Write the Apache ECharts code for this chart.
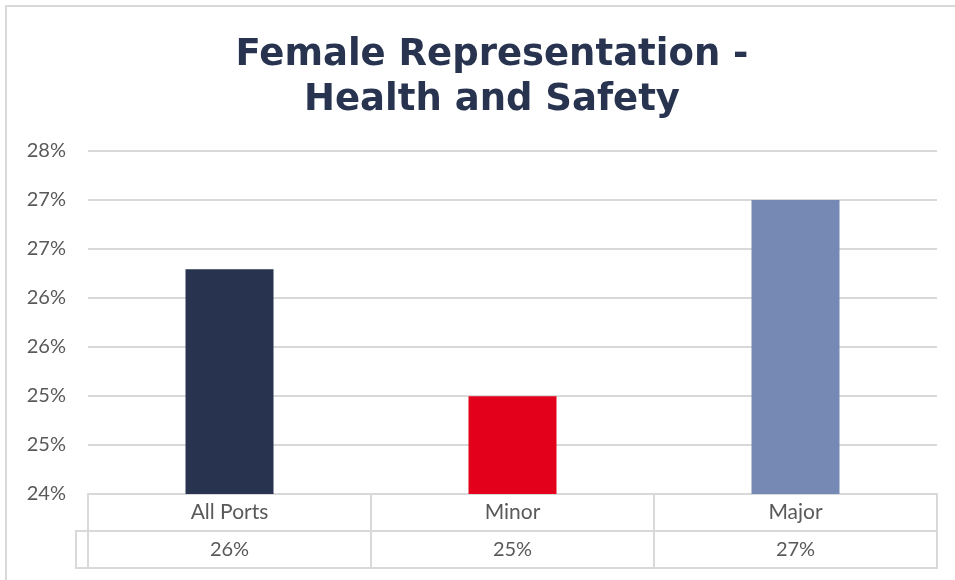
<!DOCTYPE html>
<html>
<head>
<meta charset="utf-8">
<script src="https://cdn.jsdelivr.net/npm/echarts@6/dist/echarts.min.js"></script>
<style>html,body{margin:0;padding:0;background:#fff}#c{width:955px;height:580px}</style>
</head>
<body>
<div id="c"></div>
<script>
var titleText = 'Female Representation -\nHealth and Safety';
var categories = ['All Ports', 'Minor', 'Major'];
var values = [26.62, 25.14, 27.43];
var tableLabels = ['26%', '25%', '27%'];
var barColors = ['#283350', '#e2001a', '#7589b4'];
var yMin = 24, yMax = 28, yInterval = 4 / 7;

var chart = echarts.init(document.getElementById('c'), null, {renderer: 'canvas'});
var gridColor = '#d9d9d9';
var textColor = '#595959';
var font = 'Lato, "Open Sans", sans-serif';

chart.setOption({
  animation: false,
  backgroundColor: '#fff',
  title: {
    text: titleText,
    left: 487,
    textAlign: 'center',
    top: 28,
    textStyle: {fontFamily: '"DejaVu Sans", Verdana, sans-serif', fontWeight: 'bold', fontSize: 37, color: '#283350', lineHeight: 45}
  },
  graphic: [
    {type: 'rect', shape: {x: 6, y: 6, width: 960, height: 590}, style: {fill: 'none', stroke: gridColor, lineWidth: 2}, silent: true},
    {type: 'rect', shape: {x: 76, y: 531, width: 12, height: 37}, style: {fill: 'none', stroke: gridColor, lineWidth: 2}, silent: true}
  ],
  grid: [
    {left: 88, right: 18, top: 151, bottom: 86},
    {left: 88, right: 18, top: 494, height: 74, show: true, borderColor: gridColor, borderWidth: 2}
  ],
  xAxis: [
    {
      type: 'category', gridIndex: 0, data: categories,
      axisLine: {show: false}, axisTick: {show: false},
      axisLabel: {
        margin: 0,
        formatter: function (v, i) { return '{c|' + v + '}\n{v|' + tableLabels[i] + '}'; },
        rich: {
          c: {fontFamily: font, fontSize: 21, color: textColor, lineHeight: 37, height: 37},
          v: {fontFamily: font, fontSize: 20, color: textColor, lineHeight: 37, height: 37}
        }
      }
    },
    {
      type: 'category', gridIndex: 1, data: categories,
      axisLine: {show: false}, axisTick: {show: false}, axisLabel: {show: false},
      splitLine: {show: true, interval: 0, lineStyle: {color: gridColor, width: 2}}
    }
  ],
  yAxis: [
    {
      type: 'value', gridIndex: 0, min: yMin, max: yMax, interval: yInterval,
      axisLine: {show: false}, axisTick: {show: false},
      axisLabel: {margin: 22, fontFamily: font, fontSize: 20, color: textColor,
        formatter: function (v) { return Math.round(v) + '%'; }},
      splitLine: {lineStyle: {color: gridColor, width: 2}}
    },
    {
      type: 'value', gridIndex: 1, min: 0, max: 2, interval: 1,
      axisLine: {show: false}, axisTick: {show: false}, axisLabel: {show: false},
      splitLine: {show: true, lineStyle: {color: gridColor, width: 2}}
    }
  ],
  series: [{
    type: 'bar', xAxisIndex: 0, yAxisIndex: 0, barWidth: 88,
    data: values.map(function (v, i) { return {value: v, itemStyle: {color: barColors[i]}}; })
  }]
});
</script>
</body>
</html>
